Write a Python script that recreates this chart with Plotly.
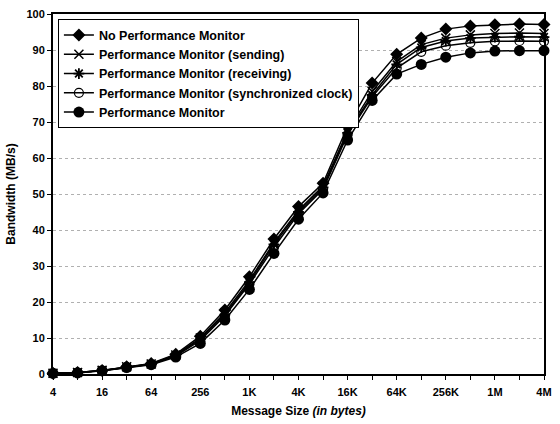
import plotly.graph_objects as go

sizes = ["4", "8", "16", "32", "64", "128", "256", "512", "1K", "2K", "4K", "8K",
         "16K", "32K", "64K", "128K", "256K", "512K", "1M", "2M", "4M"]

no_pm = [0.2, 0.4, 1.0, 2.0, 2.9, 5.5, 10.5, 17.8, 27.0, 37.5, 46.5, 53.0,
         68.8, 80.8, 88.8, 93.3, 95.8, 96.7, 97.0, 97.2, 97.1]
pm_sending = [0.2, 0.4, 1.0, 2.0, 2.8, 5.3, 10.0, 17.0, 26.0, 36.5, 45.5, 52.2,
              67.5, 78.5, 86.8, 91.5, 93.3, 94.2, 94.6, 94.7, 94.6]
pm_receiving = [0.2, 0.4, 1.0, 1.9, 2.8, 5.2, 9.7, 16.5, 25.5, 36.0, 45.0, 51.8,
                67.0, 77.5, 86.0, 90.7, 92.5, 93.3, 93.6, 93.7, 93.6]
pm_sync = [0.2, 0.4, 0.9, 1.9, 2.7, 5.0, 9.3, 16.2, 25.0, 35.2, 44.5, 51.3,
           66.5, 77.0, 85.0, 89.5, 91.2, 92.0, 92.4, 92.5, 92.4]
pm = [0.2, 0.3, 0.9, 1.8, 2.6, 4.7, 8.5, 15.0, 23.5, 33.5, 43.0, 50.3,
      65.0, 76.0, 83.3, 86.0, 88.0, 89.2, 89.7, 89.8, 89.8]

series = [
    ("No Performance Monitor", no_pm, dict(symbol="diamond", size=10, color="black")),
    ("Performance Monitor (sending)", pm_sending,
     dict(symbol="x-thin", size=9, color="black", line=dict(width=1.5, color="black"))),
    ("Performance Monitor (receiving)", pm_receiving,
     dict(symbol="asterisk", size=9, color="black", line=dict(width=1.8, color="black"))),
    ("Performance Monitor (synchronized clock)", pm_sync,
     dict(symbol="circle-open", size=9, color="black", line=dict(width=1.2, color="black"))),
    ("Performance Monitor", pm, dict(symbol="circle", size=11, color="black")),
]

idx = list(range(len(sizes)))
fig = go.Figure()
for name, vals, mk in series:
    fig.add_trace(go.Scatter(
        x=idx, y=vals, name=name, mode="lines+markers",
        line=dict(color="black", width=1.5), marker=mk, cliponaxis=False))

FAM = "Liberation Sans, Arial, sans-serif"
font = dict(family=FAM, size=11, color="black", weight="bold")

fig.update_layout(
    width=560, height=424,
    margin=dict(l=53, r=9, t=8, b=48),
    paper_bgcolor="white", plot_bgcolor="white",
    font=font,
    showlegend=True,
    legend=dict(x=0.01, y=0.985, xanchor="left", yanchor="top",
                bgcolor="white", bordercolor="black", borderwidth=1,
                font=dict(family=FAM, size=12.5, color="black", weight="bold"),
                tracegroupgap=0, itemwidth=30),
    xaxis=dict(
        range=[0, len(sizes) - 1],
        tickvals=idx,
        ticktext=[s if i % 2 == 0 else "" for i, s in enumerate(sizes)],
        ticks="outside", ticklen=4, tickcolor="black", ticklabelstandoff=3,
        showline=True, linecolor="black", linewidth=2, mirror=True,
        showgrid=False, zeroline=False,
        title=dict(text="Message Size <i>(in bytes)</i>", standoff=9,
                   font=dict(family=FAM, size=12, color="black", weight="bold")),
    ),
    yaxis=dict(
        range=[0, 100], dtick=10,
        ticks="outside", ticklen=4, tickcolor="black",
        showline=True, linecolor="black", linewidth=2, mirror=True,
        showgrid=True, gridcolor="#b0b0b0", griddash="dot", gridwidth=1,
        zeroline=False,
        title=dict(text="Bandwidth (MB/s)", standoff=8,
                   font=dict(family=FAM, size=12, color="black", weight="bold")),
    ),
)

fig.write_html("out.html")
